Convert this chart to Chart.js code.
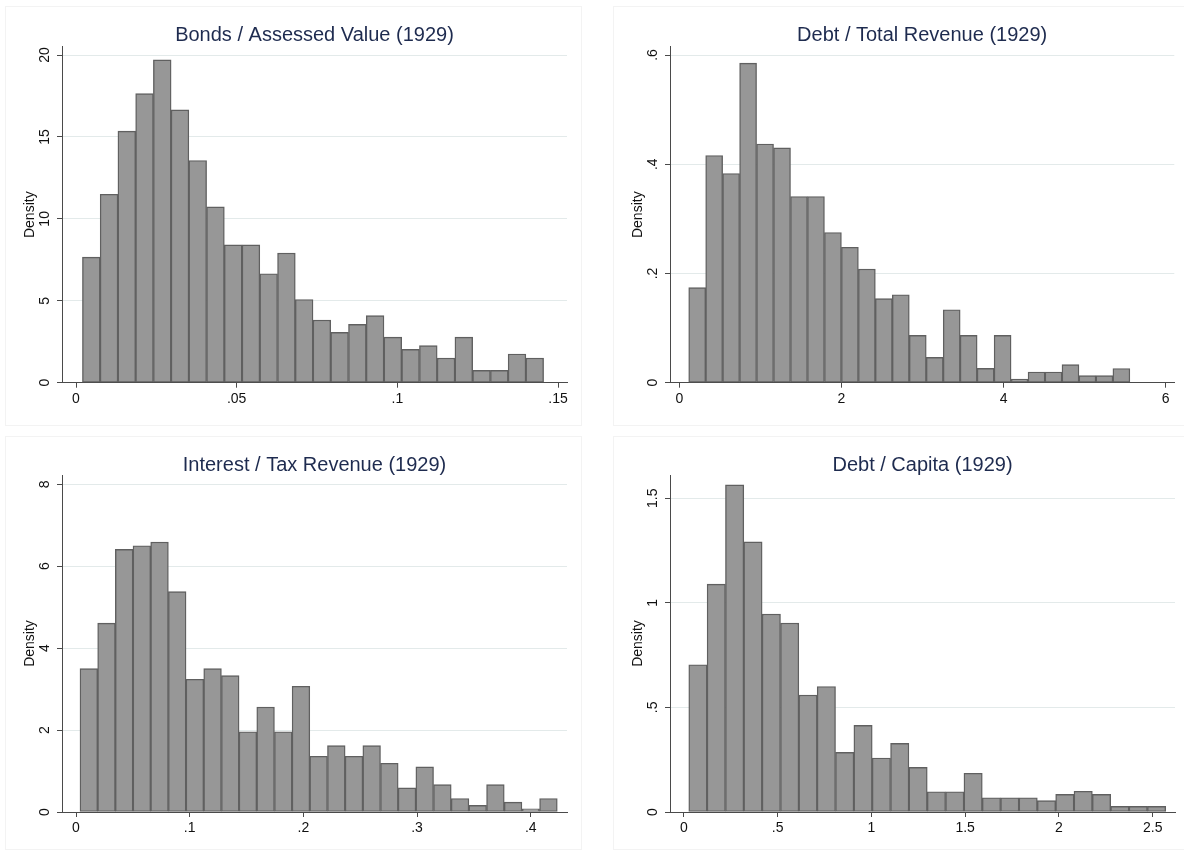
<!DOCTYPE html>
<html>
<head>
<meta charset="utf-8">
<script src="https://cdn.jsdelivr.net/npm/chart.js@4.4.1/dist/chart.umd.min.js"></script>
<style>
html, body { margin: 0; padding: 0; background: #fff; }
body { width: 1184px; height: 850px; position: relative; overflow: hidden; }
.frame { position: absolute; border: 1px solid #f3f3f3; box-sizing: border-box; }
canvas { position: absolute; }
</style>
</head>
<body>
<div class="frame" style="left:5px;top:6px;width:577px;height:420px"></div>
<div class="frame" style="left:613px;top:6px;width:575px;height:420px"></div>
<div class="frame" style="left:5px;top:436px;width:577px;height:414px"></div>
<div class="frame" style="left:613px;top:436px;width:575px;height:414px"></div>
<canvas id="c1" width="577" height="420" style="left:5px;top:6px"></canvas>
<canvas id="c2" width="571" height="420" style="left:613px;top:6px"></canvas>
<canvas id="c3" width="577" height="410" style="left:5px;top:436px"></canvas>
<canvas id="c4" width="571" height="410" style="left:613px;top:436px"></canvas>
<script>
// --- data (density per bin) ---
const bondsStart = 0.002, bondsWidth = 0.00552;
const bondsDensity = [7.66, 11.5, 15.35, 17.64, 19.7, 16.65, 13.56, 10.73, 8.41, 8.41, 6.65, 7.91, 5.08,
  3.82, 3.07, 3.56, 4.09, 2.78, 2.03, 2.26, 1.5, 2.78, 0.75, 0.75, 1.75, 1.5];
const bondsXTicks = [0, 0.05, 0.1, 0.15];
const bondsXLabels = ['0', '.05', '.1', '.15'];
const bondsYTicks = [0, 5, 10, 15, 20];
const bondsYLabels = ['0', '5', '10', '15', '20'];

const debtRevStart = 0.116, debtRevWidth = 0.2093;
const debtRevDensity = [0.174, 0.416, 0.383, 0.585, 0.437, 0.43, 0.341, 0.341, 0.275, 0.248, 0.208, 0.154, 0.161,
  0.0866, 0.0463, 0.1335, 0.0866, 0.0262, 0.0866, 0.0065, 0.0195, 0.0195, 0.033, 0.013, 0.013, 0.026];
const debtRevXTicks = [0, 2, 4, 6];
const debtRevXLabels = ['0', '2', '4', '6'];
const debtRevYTicks = [0, 0.2, 0.4, 0.6];
const debtRevYLabels = ['0', '.2', '.4', '.6'];

const interestStart = 0.0035, interestWidth = 0.01555;
const interestDensity = [3.5, 4.61, 6.41, 6.5, 6.59, 5.38, 3.24, 3.5, 3.33, 1.96, 2.56, 1.96, 3.07, 1.36,
  1.62, 1.36, 1.62, 1.19, 0.59, 1.1, 0.67, 0.33, 0.16, 0.67, 0.24, 0.08, 0.33];
const interestXTicks = [0, 0.1, 0.2, 0.3, 0.4];
const interestXLabels = ['0', '.1', '.2', '.3', '.4'];
const interestYTicks = [0, 2, 4, 6, 8];
const interestYLabels = ['0', '2', '4', '6', '8'];

const capitaStart = 0.026, capitaWidth = 0.09783;
const capitaDensity = [0.704, 1.089, 1.564, 1.291, 0.946, 0.903, 0.559, 0.6, 0.285, 0.414, 0.258, 0.328, 0.213,
  0.097, 0.097, 0.185, 0.068, 0.068, 0.068, 0.054, 0.084, 0.099, 0.084, 0.027, 0.027, 0.027];
const capitaXTicks = [0, 0.5, 1, 1.5, 2, 2.5];
const capitaXLabels = ['0', '.5', '1', '1.5', '2', '2.5'];
const capitaYTicks = [0, 0.5, 1, 1.5];
const capitaYLabels = ['0', '.5', '1', '1.5'];

// --- styles ---
const FONT = '"Liberation Sans", Arial, Helvetica, sans-serif';
const TITLE_COLOR = '#1e2b4f';
const AXIS_COLOR = '#4a4a4a';
const GRID_COLOR = '#e3eaea';
const BAR_FILL = '#979797';
const BAR_LINE = '#606060';

const measure = document.createElement('canvas').getContext('2d');
measure.font = '14px ' + FONT;
function yPad(labels){
  // keep rotated tick labels ~17px left of the axis whatever their length
  const widest = Math.max(...labels.map(l => measure.measureText(l).width));
  return Math.max(0, 12 - widest / 2);
}

function histogram(canvasId, title, start, width, dens, x, y, box){
  const points = dens.map((d, i) => ({ x: start + (i + 0.5) * width, y: d }));
  new Chart(document.getElementById(canvasId), {
    type: 'bar',
    data: {
      datasets: [{
        data: points,
        backgroundColor: BAR_FILL,
        borderColor: BAR_LINE,
        borderWidth: 1.4,
        borderSkipped: false,
        barPercentage: 1,
        categoryPercentage: 1
      }]
    },
    options: {
      responsive: false,
      animation: false,
      events: [],
      layout: { padding: { left: 0, right: box.padR, top: 0, bottom: 0 } },
      plugins: {
        legend: { display: false },
        tooltip: { enabled: false },
        title: {
          display: true, text: title, fullSize: false, color: TITLE_COLOR,
          font: { family: FONT, size: 20, weight: 'normal', lineHeight: 1 },
          padding: { top: 19, bottom: box.titleBottom }
        }
      },
      scales: {
        x: {
          type: 'linear', offset: false, min: x.min, max: x.max,
          grid: { display: true, drawOnChartArea: false, drawTicks: true, tickLength: 5,
                  color: AXIS_COLOR, tickColor: AXIS_COLOR, offset: false },
          border: { display: true, color: AXIS_COLOR, width: 1 },
          ticks: { color: '#111', font: { family: FONT, size: 14 }, padding: 3, autoSkip: false,
                   maxRotation: 0, callback: (v, i) => x.labels[i] },
          afterBuildTicks: s => { s.ticks = x.ticks.map(v => ({ value: v })); },
          afterFit: s => { s.height = box.axisH; }
        },
        y: {
          min: 0, max: y.max,
          grid: { color: c => (c.tick && c.tick.value === 0) ? 'rgba(0,0,0,0)' : GRID_COLOR,
                  lineWidth: 1, drawTicks: true, tickLength: 5, tickColor: AXIS_COLOR },
          border: { display: true, color: AXIS_COLOR, width: 1 },
          ticks: { color: '#111', font: { family: FONT, size: 14 }, padding: yPad(y.labels),
                   crossAlign: 'center', minRotation: 90, maxRotation: 90, autoSkip: false,
                   callback: (v, i) => y.labels[i] },
          title: { display: true, text: 'Density', color: '#111', font: { family: FONT, size: 14 },
                   padding: { top: 16.6, bottom: 0 } },
          afterBuildTicks: s => { s.ticks = y.ticks.map(v => ({ value: v })); },
          afterFit: s => { s.width = 57; }
        }
      }
    }
  });
}

histogram('c1', 'Bonds / Assessed Value (1929)', bondsStart, bondsWidth, bondsDensity,
  { min: -0.00436, max: 0.1528, ticks: bondsXTicks, labels: bondsXLabels },
  { max: 20.507, ticks: bondsYTicks, labels: bondsYLabels },
  { padR: 15, titleBottom: 1.7, axisH: 43.3 });

histogram('c2', 'Debt / Total Revenue (1929)', debtRevStart, debtRevWidth, debtRevDensity,
  { min: -0.1147, max: 6.106, ticks: debtRevXTicks, labels: debtRevXLabels },
  { max: 0.6152, ticks: debtRevYTicks, labels: debtRevYLabels },
  { padR: 9.7, titleBottom: 1.7, axisH: 43.3 });

histogram('c3', 'Interest / Tax Revenue (1929)', interestStart, interestWidth, interestDensity,
  { min: -0.01232, max: 0.4319, ticks: interestXTicks, labels: interestXLabels },
  { max: 8.227, ticks: interestYTicks, labels: interestYLabels },
  { padR: 15, titleBottom: 0, axisH: 34 });

histogram('c4', 'Debt / Capita (1929)', capitaStart, capitaWidth, capitaDensity,
  { min: -0.0741, max: 2.619, ticks: capitaXTicks, labels: capitaXLabels },
  { max: 1.611, ticks: capitaYTicks, labels: capitaYLabels },
  { padR: 9, titleBottom: 0, axisH: 34 });
</script>
</body>
</html>
